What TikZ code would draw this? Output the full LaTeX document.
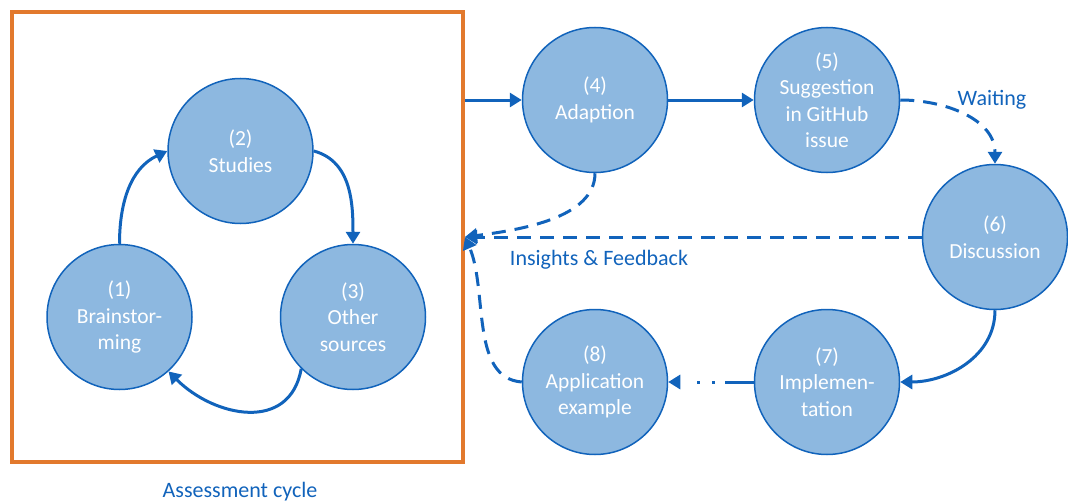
\documentclass[tikz,border=0pt]{standalone}
\usepackage{fontspec}
\setmainfont{Carlito}
\usetikzlibrary{arrows.meta}
\definecolor{cfill}{RGB}{141,184,224}
\definecolor{cblue}{RGB}{17,99,187}
\definecolor{corange}{RGB}{226,121,45}
\tikzset{
  stage/.style={circle, draw=cblue, line width=1.5pt, fill=cfill, minimum size=145pt, inner sep=0pt,
    text=white, align=center, font=\fontsize{21.5}{26.5}\selectfont},
  conn/.style={draw=cblue, line width=3pt, -{Triangle[length=12pt,width=14pt]}},
  dconn/.style={conn, dash pattern=on 14pt off 9pt},
  lbl/.style={text=cblue, font=\fontsize{22}{26}\selectfont}
}
\begin{document}
\begin{tikzpicture}[x=1pt,y=-1pt]
\useasboundingbox (0,0) rectangle (1068,503);
\node[draw=corange, line width=4pt, minimum width=451pt, minimum height=450pt, inner sep=0pt] (box) at (237.5,237) {};
\node[stage] (n1) at (119.5,317) {(1)\\Brainstor-\\ming};
\node[stage] (n2) at (240.5,151) {(2)\\Studies};
\node[stage] (n3) at (353,317) {(3)\\Other\\sources};
\node[stage] (n4) at (595,100) {(4)\\Adaption};
\node[stage] (n5) at (827,100) {(5)\\Suggestion\\in GitHub\\issue};
\node[stage] (n6) at (995,237) {(6)\\Discussion};
\node[stage] (n7) at (827,382) {(7)\\Implemen-\\tation};
\node[stage] (n8) at (595,382) {(8)\\Application\\example};
\coordinate (fb) at (box.east);
\coordinate (bo) at (box.east |- n4.west);
% assessment cycle
\draw[conn] (n1.north) to[out=90,in=205] (n2.west);
\draw[conn] (n2.east) to[out=-15,in=90] (n3.north);
\draw[conn] (n3.-135) to[out=-100,in=-45,looseness=1.25] (n1.-48);
% main flow
\draw[conn] (bo) -- (n4.west);
\draw[conn] (n4.east) -- (n5.west);
\draw[dconn] (n5.east) to[out=0,in=90] (n6.north);
\node[lbl] (wait) at (992,100) {Waiting};
\draw[conn] (n6.south) to[out=-90,in=0] (n7.east);
\draw[conn, dash pattern=on 29pt off 10pt on 3pt off 12pt on 3pt off 40pt] (n7.west) -- (n8.east);
% feedback
\draw[dconn] (n6.west) -- (fb);
\draw[dconn] (n4.south) .. controls (595,218) and (520,230) .. (fb);
\draw[dconn] (n8.west) .. controls (470,378) and (488,290) .. (fb);
\node[lbl] (ins) at (599,260) {Insights \& Feedback};
\node[lbl] (ac) at (240,492) {Assessment cycle};
\end{tikzpicture}
\end{document}
